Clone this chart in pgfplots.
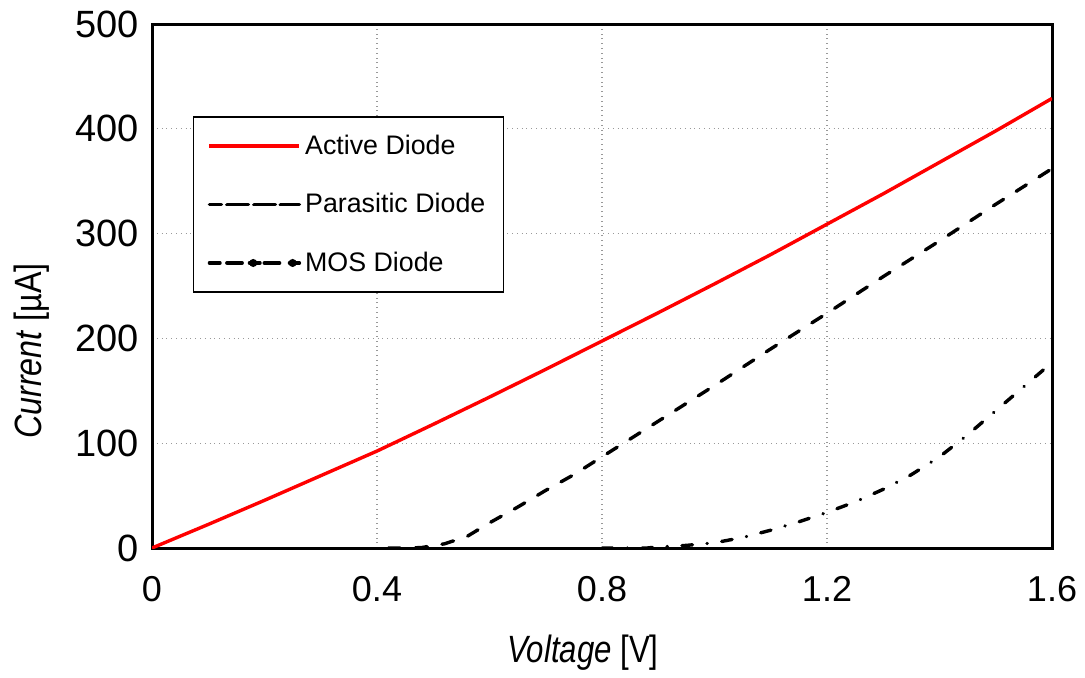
\documentclass[border=0pt]{standalone}
\usepackage{fontspec}
\setmainfont{Liberation Sans}
\usepackage{pgfplots}
\usepackage{pgfplotstable}
\pgfplotsset{compat=1.18}

\pgfplotstableread{
V I
0.0 0
0.1 22.5
0.2 45.5
0.3 69
0.4 92.5
0.5 118
0.6 144
0.7 170.5
0.8 197.5
0.9 224.5
1.0 252
1.1 280
1.2 309
1.3 338
1.4 368
1.5 398
1.6 429
}\activediode

\pgfplotstableread{
V I
0.42 0
0.46 0
0.48 0.5
0.52 4
0.56 11
0.6 24
0.65 39
0.7 55
0.75 70
0.8 87
0.9 121
1.0 155
1.1 190
1.2 224
1.3 259
1.4 293
1.5 328
1.6 362
}\parasiticdiode

\pgfplotstableread{
V I
0.8 0
0.88 0
0.9 1
0.95 2.5
1.0 5
1.05 10
1.1 17
1.15 25
1.2 34
1.25 44
1.3 56
1.35 70
1.4 87
1.45 108
1.5 131
1.55 154
1.6 177
}\mosdiode

\begin{document}
\begin{tikzpicture}[x=0.5pt,y=0.5pt]
\begin{axis}[
    at={(0,0)}, anchor=south west,
    scale only axis,
    width=450pt, height=262pt,
    xmin=0, xmax=1.6, ymin=0, ymax=500,
    xtick={0,0.4,0.8,1.2,1.6},
    xticklabels={0,0.4,0.8,1.2,1.6},
    ytick={0,100,...,500},
    grid=major,
    major grid style={gray!80, dotted, line width=0.6pt},
    major tick length=0pt,
    axis line style={line width=1.5pt},
    tick label style={font=\fontsize{18}{20}\selectfont},
    yticklabel style={font=\fontsize{19}{21}\selectfont},
    /pgf/number format/assume math mode=true,
    xticklabel style={yshift=-10.5pt},
    yticklabel style={xshift=-3pt},
    xlabel={\scalebox{0.82}[1]{\textit{Voltage} [V]}},
    ylabel={\scalebox{0.85}[1]{\textit{Current} [µA]}},
    label style={font=\fontsize{19}{21}\selectfont},
    xlabel style={yshift=-10pt, xshift=-9.5pt},
    ylabel style={yshift=6pt, xshift=-32.5pt},
    legend style={at={(rel axis cs:0.0456,0.824)}, anchor=north west,
        draw=black, line width=0.7pt, font=\fontsize{13.4}{15}\selectfont,
        inner xsep=7pt, inner ysep=7pt, row sep=14pt},
    legend cell align=left,
]
\addplot[red, line width=1.7pt,
    legend image code/.code={
        \path (-8pt,0pt) -- (37pt,0pt);
        \draw[red, solid, line width=1.7pt] (0.8pt,0pt) -- (35pt,0pt);}]
    table[x=V,y=I] {\activediode};
\addlegendentry{Active Diode}
\addplot[black, line width=1.7pt, line cap=round,
    dash pattern=on 6pt off 7.5pt,
    legend image code/.code={
        \path (-8pt,0pt) -- (37pt,0pt);
        \draw[black, solid, line width=1.9pt]
            (0.8pt,0pt) -- (8.3pt,0pt)
            (14.3pt,0pt) -- (21.8pt,0pt)
            (27.5pt,0pt) -- (35pt,0pt);}]
    table[x=V,y=I] {\parasiticdiode};
\addlegendentry{Parasitic Diode}
\addplot[black, line width=1.7pt, line cap=round,
    dash pattern=on 5.3pt off 7.3pt on 0.1pt off 7.3pt,
    legend image code/.code={
        \path (-8pt,0pt) -- (37pt,0pt);
        \draw[black, solid, line width=1.9pt]
            (0.8pt,0pt) -- (8.3pt,0pt)
            (19.5pt,0pt) -- (27pt,0pt);
        \fill[black, solid] (13.9pt,0pt) circle (1.1pt) (33.6pt,0pt) circle (1.1pt);}]
    table[x=V,y=I] {\mosdiode};
\addlegendentry{MOS Diode}
\end{axis}
\path[use as bounding box] (-152,-124) rectangle (933,548);
\end{tikzpicture}
\end{document}
